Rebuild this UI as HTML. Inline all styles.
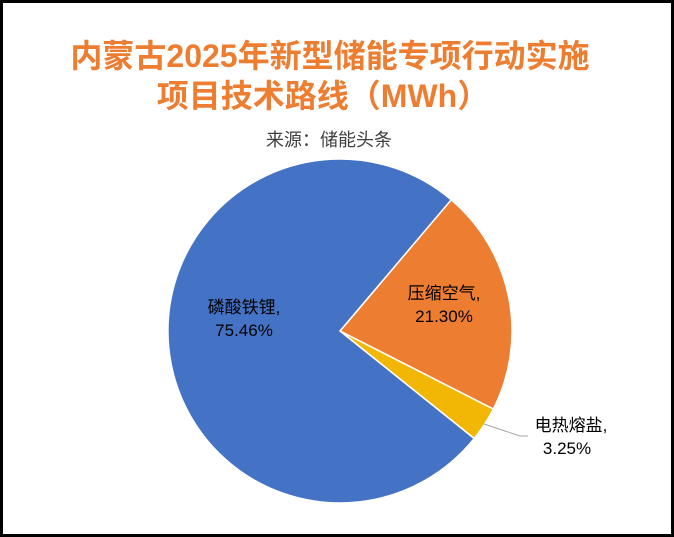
<!DOCTYPE html>
<html><head><meta charset="utf-8"><style>
html,body{margin:0;padding:0;background:#fff;}
body{width:674px;height:537px;overflow:hidden;position:relative;font-family:"Liberation Sans","Noto Sans CJK SC",sans-serif;}
.frame{position:absolute;left:0;top:0;width:668px;height:531px;border:3px solid #000;}
.t{position:absolute;width:674px;text-align:center;color:#ED7D31;font-weight:bold;font-size:32px;line-height:40px;font-family:"Liberation Sans","Noto Sans CJK SC",sans-serif;}
</style></head><body>
<div class="frame"></div>
<div class="t" style="top:36px;left:-7px">内蒙古2025年新型储能专项行动实施</div>
<div class="t" style="top:76px;left:-14px">项目技术路线（MWh）</div>
<div style="position:absolute;top:126px;left:-8px;width:674px;text-align:center;font-size:18px;color:#404040">来源：储能头条</div>
<svg width="674" height="537" style="position:absolute;left:0;top:0">
<g stroke="#fff" stroke-width="1.5" stroke-linejoin="round">
<path d="M340,331 L451.2,199.8 A172,172 0 0,1 493.3,409.1 Z" fill="#ED7D31"/>
<path d="M340,331 L493.3,409.1 A172,172 0 0,1 474.2,438.5 Z" fill="#F2B705"/>
<path d="M340,331 L474.2,438.5 A172,172 0 1,1 451.2,199.8 Z" fill="#4472C4"/>
</g>
<polyline points="484,424 520,436 528,436" fill="none" stroke="#a6a6a6" stroke-width="1"/>
<g font-family="Liberation Sans,Noto Sans CJK SC,sans-serif" font-size="17" fill="#000" text-anchor="middle">
<text x="244" y="313">磷酸铁锂,</text><text x="244" y="336">75.46%</text>
<text x="444" y="299">压缩空气,</text><text x="444" y="322">21.30%</text>
<text x="571" y="431">电热熔盐,</text><text x="567" y="454">3.25%</text>
</g>
</svg>
</body></html>
